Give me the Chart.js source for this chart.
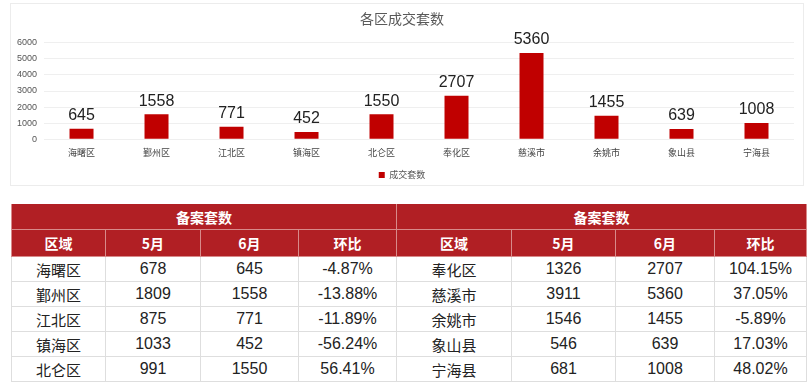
<!DOCTYPE html>
<html>
<head>
<meta charset="utf-8">
<script src="https://cdn.jsdelivr.net/npm/chart.js@4"></script>
<style>
  body { margin: 0; width: 811px; height: 387px; background: #fff; overflow: hidden;
         font-family: "Liberation Sans", "Noto Sans CJK SC", sans-serif; }
  .panel { position: absolute; left: 10px; top: 3px; width: 794px; height: 183px;
           border: 1px solid #ececec; box-sizing: border-box; }
  #chartWrap { position: absolute; left: 0; top: 0; width: 811px; height: 190px; }
  table { position: absolute; left: 11px; top: 204px; border-collapse: collapse; table-layout: fixed; }
  td, th { padding: 0; text-align: center; font-weight: normal; }
  th { background: #b11f24; color: #fff; font-weight: bold; font-size: 14px;
       font-family: "Noto Sans CJK SC", sans-serif; border: 1px solid #d88a8a; }
  tr.h1 th { height: 25px; border-top: none; }
  tr.h2 th { height: 26px; }
  td { height: 24px; border: 1px solid #dedede; color: #222; font-size: 16px; }
  td.name { font-family: "Noto Sans CJK SC", sans-serif; font-size: 15px; }
</style>
</head>
<body>
<div class="panel"></div>
<div id="chartWrap"><canvas id="barChart" width="811" height="190"></canvas></div>
<table id="dataTable"></table>
<script>
const districts = ['海曙区', '鄞州区', '江北区', '镇海区', '北仑区', '奉化区', '慈溪市', '余姚市', '象山县', '宁海县'];
const mayCounts = [678, 1809, 875, 1033, 991, 1326, 3911, 1546, 546, 681];
const juneCounts = [645, 1558, 771, 452, 1550, 2707, 5360, 1455, 639, 1008];
const changeRates = ['-4.87%', '-13.88%', '-11.89%', '-56.24%', '56.41%', '104.15%', '37.05%', '-5.89%', '17.03%', '48.02%'];
const yTicks = [0, 1000, 2000, 3000, 4000, 5000, 6000];

// draw value above each bar
const valueLabels = {
  id: 'valueLabels',
  afterDatasetsDraw(chart) {
    const c = chart.ctx;
    const meta = chart.getDatasetMeta(0);
    c.save();
    c.font = '16px "Liberation Sans", Arial, sans-serif';
    c.fillStyle = '#222';
    c.textAlign = 'center';
    c.textBaseline = 'bottom';
    meta.data.forEach((bar, i) => {
      c.fillText(chart.data.datasets[0].data[i], bar.x, bar.y - 5);
    });
    c.restore();
  }
};

new Chart(document.getElementById('barChart').getContext('2d'), {
  type: 'bar',
  data: {
    labels: districts,
    datasets: [{
      label: '成交套数',
      data: juneCounts,
      backgroundColor: '#c00000',
      categoryPercentage: 1,
      barPercentage: 0.32
    }]
  },
  options: {
    responsive: false,
    animation: false,
    layout: { padding: { left: 10, right: 17, top: 0, bottom: 0.5 } },
    scales: {
      x: {
        grid: { display: false },
        border: { display: false },
        afterFit: (axis) => { axis.height += 3; },
        ticks: { color: '#444', font: { size: 9, family: '"Noto Sans CJK SC", sans-serif' }, padding: 0 }
      },
      y: {
        min: 0,
        max: 6000,
        afterBuildTicks: (axis) => { axis.ticks = yTicks.map(v => ({ value: v })); },
        grid: { color: '#efefef', drawTicks: false },
        border: { display: false },
        ticks: { color: '#555', font: { size: 9 }, padding: 7, callback: (v) => String(v) }
      }
    },
    plugins: {
      title: {
        display: true,
        text: '各区成交套数',
        color: '#595959',
        font: { size: 14, weight: 'normal', family: '"Noto Sans CJK SC", sans-serif' },
        padding: { top: 10, bottom: 16 }
      },
      legend: {
        position: 'bottom',
        labels: { boxWidth: 6, boxHeight: 6, color: '#555', padding: 9.5,
                  font: { size: 9, family: '"Noto Sans CJK SC", sans-serif' } }
      },
      tooltip: { enabled: false }
    }
  },
  plugins: [valueLabels]
});

// table below the chart
const leftWidths = [94, 95, 98, 98];
const rightWidths = [115, 104, 99, 92];
const table = document.getElementById('dataTable');
let html = '<colgroup>';
leftWidths.concat(rightWidths).forEach(w => { html += `<col style="width:${w}px">`; });
html += '</colgroup>';
html += '<tr class="h1"><th colspan="4">备案套数</th><th colspan="4">备案套数</th></tr>';
html += '<tr class="h2">' + ['区域', '5月', '6月', '环比', '区域', '5月', '6月', '环比'].map(t => `<th>${t}</th>`).join('') + '</tr>';
for (let i = 0; i < 5; i++) {
  const j = i + 5;
  html += '<tr>' +
    `<td class="name">${districts[i]}</td><td>${mayCounts[i]}</td><td>${juneCounts[i]}</td><td>${changeRates[i]}</td>` +
    `<td class="name">${districts[j]}</td><td>${mayCounts[j]}</td><td>${juneCounts[j]}</td><td>${changeRates[j]}</td>` +
    '</tr>';
}
table.innerHTML = html;
</script>
</body>
</html>
